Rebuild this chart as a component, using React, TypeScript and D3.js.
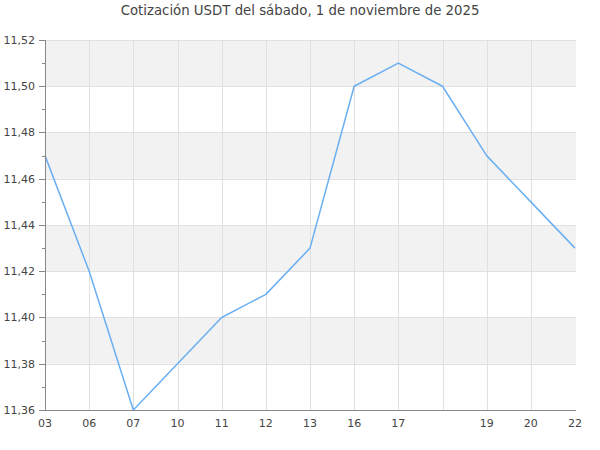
import React from "react";
import * as d3 from "d3";

const labels = ["03", "06", "07", "10", "11", "12", "13", "16", "17", "", "19", "20", "22"];
const values = [11.47, 11.42, 11.36, 11.38, 11.40, 11.41, 11.43, 11.50, 11.51, 11.50, 11.47, 11.45, 11.43];
const yMajor = [11.36, 11.38, 11.40, 11.42, 11.44, 11.46, 11.48, 11.50, 11.52];
const yMinor = [11.37, 11.39, 11.41, 11.43, 11.45, 11.47, 11.49, 11.51];
const title = "Cotización USDT del sábado, 1 de noviembre de 2025";

export default function App() {
  const W = 600, H = 450;
  const left = 45, right = 576, top = 40, bottom = 410;
  const x = d3.scaleLinear().domain([0, labels.length - 1]).range([left, right - 1]);
  const y = d3.scaleLinear().domain([11.36, 11.52]).range([bottom, top]);
  const line = d3.line<number>().x((_, i) => x(i)).y((d) => y(d));
  const fmt = (v: number) => v.toFixed(2).replace(".", ",");
  const font = "DejaVu Sans, sans-serif";
  const bands = yMajor.slice(0, -1).map((v, i) => ({ lo: v, hi: yMajor[i + 1], gray: i % 2 === 1 }));
  return (
    <svg width={W} height={H} style={{ position: "absolute", left: 0, top: 0 }}>
      <rect x={0} y={0} width={W} height={H} fill="#fff" />
      {bands.filter((b) => b.gray).map((b, i) => (
        <rect key={i} x={left} y={y(b.hi)} width={right - left} height={y(b.lo) - y(b.hi)} fill="#f2f2f2" />
      ))}
      {yMajor.map((v, i) => (
        <line key={i} x1={left} x2={right} y1={Math.round(y(v)) + 0.5} y2={Math.round(y(v)) + 0.5} stroke="#e0e0e0" />
      ))}
      {labels.map((_, i) => i > 0 && i < labels.length - 1 ? (
        <line key={i} x1={Math.round(x(i)) + 0.5} x2={Math.round(x(i)) + 0.5} y1={top} y2={bottom} stroke="#e0e0e0" />
      ) : null)}
      <path d={line(values) || ""} fill="none" stroke="#6aaff2" strokeWidth={1.5} strokeLinejoin="round" />
      <line x1={left + 0.5} x2={left + 0.5} y1={top} y2={bottom} stroke="#888" />
      <line x1={left} x2={right} y1={bottom + 0.5} y2={bottom + 0.5} stroke="#888" />
      {yMajor.map((v, i) => (
        <g key={i}>
          <line x1={left - 6} x2={left} y1={Math.round(y(v)) + 0.5} y2={Math.round(y(v)) + 0.5} stroke="#888" />
          <text x={35} y={y(v)} dy="0.35em" textAnchor="end" fontFamily={font} fontSize={11} fill="#444">{fmt(v)}</text>
        </g>
      ))}
      {yMinor.map((v, i) => (
        <line key={i} x1={left - 3} x2={left} y1={Math.round(y(v)) + 0.5} y2={Math.round(y(v)) + 0.5} stroke="#888" />
      ))}
      {labels.map((l, i) => (
        <text key={i} x={x(i)} y={427} textAnchor="middle" fontFamily={font} fontSize={11} fill="#444">{l}</text>
      ))}
      <text x={300} y={15} textAnchor="middle" fontFamily={font} fontSize={13.3} fill="#444">{title}</text>
    </svg>
  );
}
